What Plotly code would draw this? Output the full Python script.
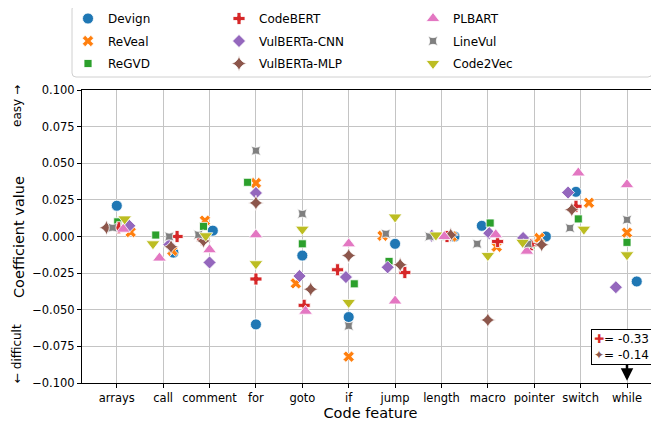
import plotly.graph_objects as go

categories = ["arrays", "call", "comment", "for", "goto", "if", "jump",
              "length", "macro", "pointer", "switch", "while"]

devign       = [0.021, -0.011, 0.004, -0.060, -0.013, -0.055, -0.005, 0.000, 0.0073, 0.000, 0.0305, -0.0307]
reveal       = [0.003, -0.0097, 0.0108, 0.0365, -0.032, -0.082, 0.0005, 0.000, -0.007, -0.001, 0.023, 0.0026]
regvd        = [0.010, 0.001, 0.0069, 0.037, -0.005, -0.0323, -0.017, 0.000, 0.0092, -0.006, 0.012, -0.004]
codebert     = [0.006, 0.000, -0.002, -0.029, -0.047, -0.0227, -0.0246, 0.000, -0.0034, -0.0056, 0.0206, -0.33]
vulberta_cnn = [0.0073, -0.0056, -0.0177, 0.0297, -0.027, -0.0277, -0.021, 0.0005, 0.0023, -0.001, 0.030, -0.0346]
vulberta_mlp = [0.006, -0.007, -0.003, 0.0229, -0.036, -0.013, -0.0193, 0.001, -0.057, -0.0056, 0.0183, -0.14]
plbart       = [0.005, -0.0147, -0.009, 0.0012, -0.051, -0.005, -0.044, 0.000, 0.0012, -0.010, 0.0434, 0.0354]
linevul      = [0.006, 0.000, 0.0012, 0.0586, 0.0155, -0.061, 0.0019, 0.000, -0.005, -0.005, 0.0058, 0.0114]
code2vec     = [0.012, -0.005, 0.0005, -0.0186, 0.005, -0.045, 0.0133, 0.001, -0.013, -0.004, 0.005, -0.0125]

# strip-plot jitter (category units)
jit_devign   = [0.00, 0.22, 0.07, 0.00, 0.00, 0.00, 0.00, 0.28, -0.13, 0.25, -0.10, 0.21]
jit_reveal   = [0.30, 0.20, -0.10, 0.00, -0.14, 0.00, -0.27, 0.22, 0.19, 0.11, 0.18, 0.00]
jit_regvd    = [0.02, -0.16, -0.13, -0.18, 0.00, 0.12, -0.13, 0.10, 0.05, -0.07, -0.05, 0.00]
jit_codebert = [0.04, 0.30, -0.15, 0.00, 0.04, -0.24, 0.21, 0.12, 0.21, -0.06, -0.10, 0.00]
jit_cnn      = [0.27, 0.13, 0.00, 0.00, -0.06, -0.06, -0.16, -0.21, 0.03, -0.24, -0.27, -0.24]
jit_mlp      = [-0.22, 0.17, -0.13, 0.00, 0.18, 0.00, 0.11, 0.20, 0.00, 0.16, -0.19, 0.00]
jit_plbart   = [0.14, -0.08, 0.00, 0.00, 0.07, 0.00, 0.00, 0.06, 0.17, -0.16, -0.05, 0.00]
jit_linevul  = [-0.09, 0.13, -0.24, 0.00, 0.00, 0.00, -0.20, -0.26, -0.23, -0.13, -0.23, 0.00]
jit_code2vec = [0.17, -0.22, -0.08, 0.00, 0.00, 0.00, 0.00, -0.12, 0.00, -0.25, 0.07, 0.00]

off_chart_labels = ["= -0.33", "= -0.14"]

series = [
    ("Devign", devign, jit_devign, "#1f77b4", "circle", 11, "legend"),
    ("ReVeal", reveal, jit_reveal, "#ff7f0e", "x", 10, "legend"),
    ("ReGVD", regvd, jit_regvd, "#2ca02c", "square", 8, "legend"),
    ("CodeBERT", codebert, jit_codebert, "#d62728", "cross", 10, "legend2"),
    ("VulBERTa-CNN", vulberta_cnn, jit_cnn, "#9467bd", "diamond", 10, "legend2"),
    ("VulBERTa-MLP", vulberta_mlp, jit_mlp, "#8c564b", "star-diamond", 11, "legend2"),
    ("PLBART", plbart, jit_plbart, "#e377c2", "triangle-up", 12, "legend3"),
    ("LineVul", linevul, jit_linevul, "#7f7f7f", "star-square", 9, "legend3"),
    ("Code2Vec", code2vec, jit_code2vec, "#bcbd22", "triangle-down", 12, "legend3"),
]

fig = go.Figure()
for name, vals, jit, color, sym, size, leg in series:
    xs = [i + j for i, j in enumerate(jit)]
    fig.add_trace(go.Scatter(
        x=xs, y=vals, mode="markers", name=name, legend=leg, legendgroup=name,
        marker=dict(symbol=sym, size=size, color=color,
                    line=dict(color="white", width=0.8)),
    ))

# page has an 8px body margin: figure pixel = screen pixel - 8
OFF = 8
W, H = 659 - OFF, 430 - OFF
L, T = 82 - OFF, 90 - OFF
R, B = 0, H - (383 - OFF)
pw, ph = W - L - R, H - T - B

def px(xs):
    return (xs - OFF - L) / pw

def py(ys):
    return (H - B - (ys - OFF)) / ph

font = "DejaVu Sans"
leg_common = dict(font=dict(family=font, size=12, color="black"),
                  bgcolor="rgba(0,0,0,0)", borderwidth=0,
                  yanchor="top", xanchor="left", y=py(4),
                  tracegroupgap=3.5, itemsizing="trace")

# rounded legend frame
x0, x1, y0, y1 = px(72), px(652), py(77), py(5)
rx, ry = 4 / pw, 4 / ph
frame = (f"M {x0+rx},{y1} L {x1-rx},{y1} Q {x1},{y1} {x1},{y1-ry} "
         f"L {x1},{y0+ry} Q {x1},{y0} {x1-rx},{y0} L {x0+rx},{y0} "
         f"Q {x0},{y0} {x0},{y0+ry} L {x0},{y1-ry} Q {x0},{y1} {x0+rx},{y1} Z")

fig.update_layout(
    width=W, height=H,
    margin=dict(l=L, r=R, t=T, b=B, autoexpand=False),
    paper_bgcolor="white", plot_bgcolor="white",
    font=dict(family=font, size=11.5, color="black"),
    legend=dict(x=px(68), **leg_common),
    legend2=dict(x=px(219), **leg_common),
    legend3=dict(x=px(413), **leg_common),
    shapes=[dict(type="path", path=frame, xref="paper", yref="paper",
                 line=dict(color="#d0d0d0", width=1), fillcolor="rgba(255,255,255,0)",
                 layer="below")],
    xaxis=dict(range=[-0.75, 11.69], tickmode="array",
               tickvals=list(range(len(categories))), ticktext=categories,
               showgrid=True, gridcolor="#c4c4c4", gridwidth=1,
               showline=True, linecolor="black", linewidth=1, mirror=True,
               ticks="outside", ticklen=4, tickcolor="black",
               tickfont=dict(size=11.5), zeroline=False,
               title=dict(text="Code feature", font=dict(size=14.5), standoff=4)),
    yaxis=dict(range=[-0.1, 0.1], tickmode="linear", tick0=-0.1, dtick=0.025,
               tickformat=".3f", showgrid=True, gridcolor="#c4c4c4", gridwidth=1,
               showline=True, linecolor="black", linewidth=1,
               ticks="outside", ticklen=4, tickcolor="black",
               tickfont=dict(size=11.5), zeroline=False),
    annotations=[
        dict(text="Coefficient value", textangle=-90, xref="paper", yref="paper",
             x=px(19), y=py(237), xanchor="center", yanchor="middle",
             showarrow=False, font=dict(size=14.5)),
        dict(text="easy →", textangle=-90, xref="paper", yref="paper",
             x=px(17), y=py(106), xanchor="center", yanchor="middle",
             showarrow=False, font=dict(size=12)),
        dict(text="← difficult", textangle=-90, xref="paper", yref="paper",
             x=px(17), y=py(354), xanchor="center", yanchor="middle",
             showarrow=False, font=dict(size=12)),
        dict(x=11, y=-0.0985, xref="x", yref="y", ax=0, ay=-20, text="",
             showarrow=True, arrowhead=2, arrowsize=1, arrowwidth=2.5,
             arrowcolor="black"),
        dict(text=(f"<span style='color:#d62728'>✚</span>{off_chart_labels[0]}<br>"
                   f"<span style='color:#8c564b'>✦</span>{off_chart_labels[1]}"),
             xref="paper", yref="paper", x=px(591), y=py(329),
             xanchor="left", yanchor="top", align="left", showarrow=False,
             bordercolor="black", borderwidth=1, borderpad=2, bgcolor="white",
             font=dict(size=12)),
    ],
)

fig.write_html("out.html")
